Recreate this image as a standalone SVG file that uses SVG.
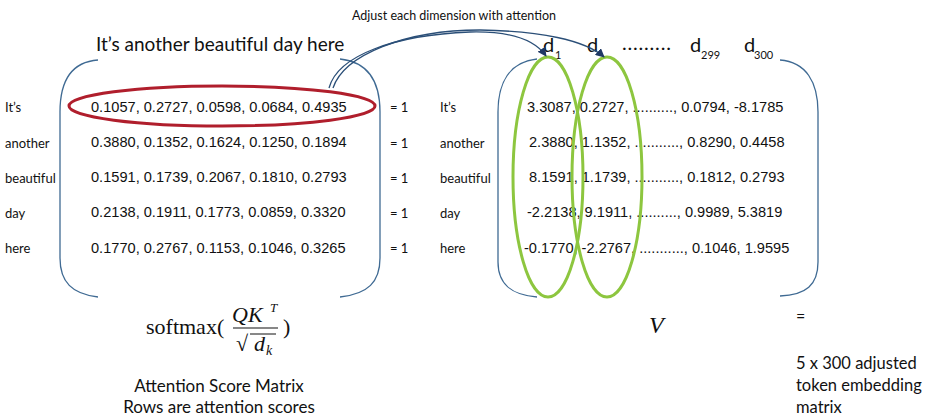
<svg xmlns="http://www.w3.org/2000/svg" width="940" height="418" viewBox="0 0 940 418">
<defs>
<style>
.cal{font-family:Lato,"Open Sans","DejaVu Sans",sans-serif;fill:#111}
.num{font-family:"Liberation Sans",Arial,sans-serif;font-size:14.6px;fill:#111}
.lbl{font-family:Lato,"Open Sans",sans-serif;font-size:13px;fill:#111}
.br{fill:none;stroke:#3F6A93;stroke-width:1.3}
.math{font-family:"Liberation Serif","DejaVu Serif",serif;fill:#111}
.conn{fill:none;stroke:#2B4F78;stroke-width:1.3}
</style>
<marker id="ah" viewBox="0 0 10 10" refX="9" refY="5" markerWidth="7" markerHeight="7" orient="auto">
<path d="M0,0 L10,5 L0,10 z" fill="#1F3864"/>
</marker>
</defs>
<rect width="940" height="418" fill="#fff"/>

<g id="caption-top">
<text class="cal" x="352" y="20" font-size="12.5">Adjust each dimension with attention</text>
<text class="cal" x="96" y="51" font-size="19">It’s another beautiful day here</text>
</g>

<g id="attention-matrix">
<path class="br" d="M98,60 C70,62 60,82 60,112 L60,258 C60,282 72,294 98,297"/>
<path class="br" d="M340,59 C368,62 380,82 380,112 L380,258 C380,282 368,294 340,297"/>
<text class="lbl" x="5" y="112">It’s</text>
<text class="lbl" x="5" y="148">another</text>
<text class="lbl" x="5" y="183">beautiful</text>
<text class="lbl" x="5" y="218">day</text>
<text class="lbl" x="5" y="253">here</text>
<text class="num" x="91" y="112">0.1057, 0.2727, 0.0598, 0.0684, 0.4935</text>
<text class="num" x="91" y="147">0.3880, 0.1352, 0.1624, 0.1250, 0.1894</text>
<text class="num" x="91" y="182">0.1591, 0.1739, 0.2067, 0.1810, 0.2793</text>
<text class="num" x="91" y="217">0.2138, 0.1911, 0.1773, 0.0859, 0.3320</text>
<text class="num" x="91" y="253">0.1770, 0.2767, 0.1153, 0.1046, 0.3265</text>
<text class="lbl" x="390" y="112">= 1</text>
<text class="lbl" x="390" y="148">= 1</text>
<text class="lbl" x="390" y="183">= 1</text>
<text class="lbl" x="390" y="218">= 1</text>
<text class="lbl" x="390" y="253">= 1</text>
<ellipse cx="222" cy="106" rx="153" ry="20" fill="none" stroke="#B01E2C" stroke-width="3"/>
</g>

<g id="formula">
<text class="math" x="146" y="334" font-size="22">softmax(</text>
<text class="math" x="232" y="322" font-size="22" font-style="italic">QK</text>
<text class="math" x="270" y="312" font-size="13" font-style="italic">T</text>
<line x1="233" y1="328" x2="278" y2="328" stroke="#111" stroke-width="1.2"/>
<text class="math" x="236" y="351" font-size="22">√</text>
<line x1="250" y1="334" x2="276" y2="334" stroke="#111" stroke-width="1"/>
<text class="math" x="254" y="351" font-size="22" font-style="italic">d</text>
<text class="math" x="266" y="355" font-size="14" font-style="italic">k</text>
<text class="math" x="283" y="334" font-size="22">)</text>
<text class="cal" x="219" y="392" font-size="17" text-anchor="middle">Attention Score Matrix</text>
<text class="cal" x="219" y="413" font-size="17" text-anchor="middle">Rows are attention scores</text>
</g>

<g id="value-matrix">
<path class="br" d="M537,59 C510,62 498,82 498,112 L498,262 C498,285 512,295 537,297"/>
<path class="br" d="M780,60 C806,62 818,82 818,112 L818,262 C818,285 806,295 780,296"/>
<text class="lbl" x="440" y="112">It’s</text>
<text class="lbl" x="440" y="148">another</text>
<text class="lbl" x="440" y="183">beautiful</text>
<text class="lbl" x="440" y="218">day</text>
<text class="lbl" x="440" y="253">here</text>
<text class="num" x="527" y="112">3.3087, 0.2727, .........., 0.0794, -8.1785</text>
<text class="num" x="529" y="147">2.3880, 1.1352, ..........., 0.8290, 0.4458</text>
<text class="num" x="529" y="182">8.1591, 1.1739, ..........., 0.1812, 0.2793</text>
<text class="num" x="527" y="217">-2.2138, 9.1911, .........., 0.9989, 5.3819</text>
<text class="num" x="524" y="253">-0.1770, -2.2767, ..........., 0.1046, 1.9595</text>
<text class="cal" x="543" y="52" font-size="20">d</text>
<text class="cal" x="555" y="59" font-size="11">1</text>
<text class="cal" x="587" y="52" font-size="20">d</text>
<text class="cal" x="622" y="50" font-size="20" letter-spacing="0.8">.........</text>
<text class="cal" x="690" y="52" font-size="20">d</text>
<text class="cal" x="701" y="59" font-size="11">299</text>
<text class="cal" x="744" y="52" font-size="20">d</text>
<text class="cal" x="754" y="59" font-size="11">300</text>
<ellipse cx="548" cy="177" rx="35" ry="120" fill="none" stroke="#8DC63F" stroke-width="3"/>
<ellipse cx="607" cy="177" rx="35" ry="120" fill="none" stroke="#8DC63F" stroke-width="3"/>
<text class="math" x="649" y="333" font-size="24" font-style="italic">V</text>
</g>

<g id="result">
<text class="cal" x="796" y="322" font-size="16">=</text>
<text class="cal" x="796" y="369" font-size="16.5">5 x 300 adjusted</text>
<text class="cal" x="796" y="391" font-size="16.5">token embedding</text>
<text class="cal" x="796" y="413" font-size="16.5">matrix</text>
</g>

<g id="connectors">
<path class="conn" d="M329,88 C338,55 395,35 470,32 C510,31 535,40 546,56" marker-end="url(#ah)"/>
<path class="conn" d="M333,88 C344,55 405,30 480,30 C540,31 585,40 604,57" marker-end="url(#ah)"/>
</g>
</svg>
